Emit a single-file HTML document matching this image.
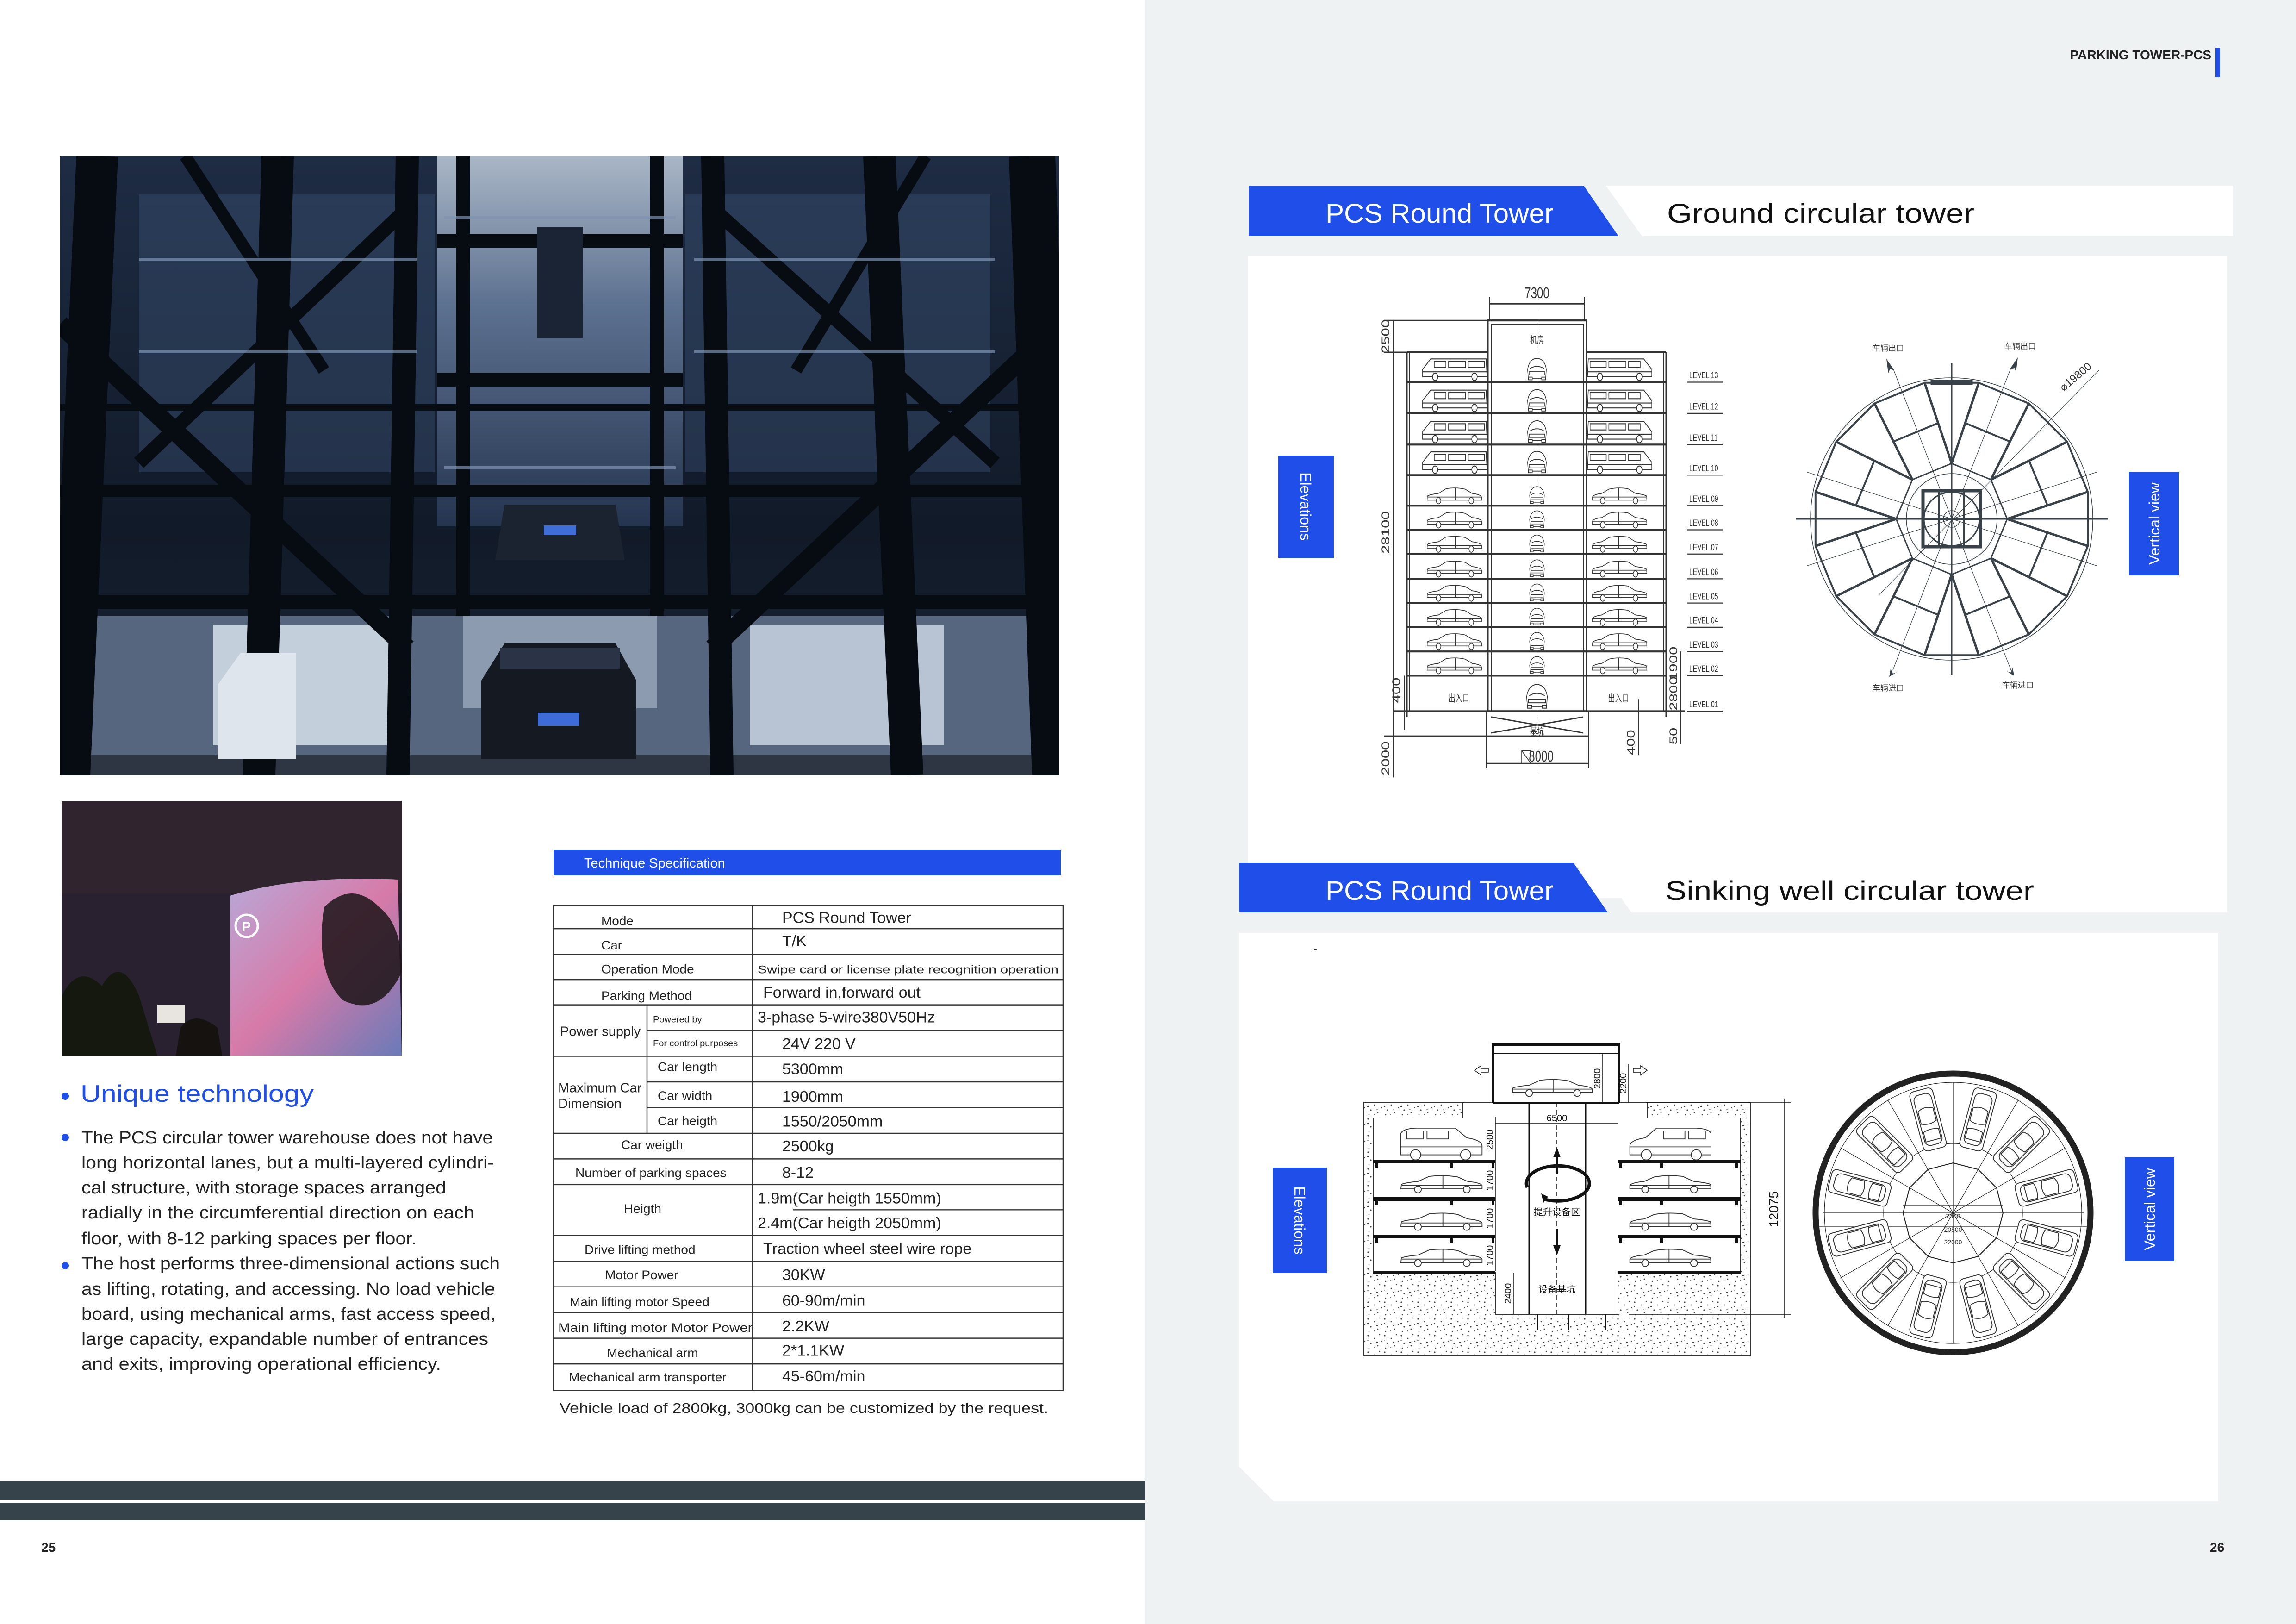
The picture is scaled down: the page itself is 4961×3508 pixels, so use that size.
<!DOCTYPE html>
<html><head><meta charset="utf-8"><style>
html,body{margin:0;padding:0;width:4961px;height:3508px;overflow:hidden;background:#fff}
svg{display:block}
text{font-family:"Liberation Sans","Noto Sans CJK SC",sans-serif}
</style></head><body>
<svg width="4961" height="3508" viewBox="0 0 4961 3508" xmlns="http://www.w3.org/2000/svg">
<defs>
<clipPath id="ph1"><rect x="130" y="337" width="2158" height="1337"/></clipPath>
<clipPath id="ph2"><rect x="134" y="1730" width="734" height="550"/></clipPath>
<linearGradient id="g1" x1="0" y1="0" x2="0" y2="1"><stop offset="0" stop-color="#1e2c44"/><stop offset="0.6" stop-color="#111a28"/><stop offset="1" stop-color="#1a2434"/></linearGradient>
<linearGradient id="g2" x1="0" y1="0" x2="0" y2="1"><stop offset="0" stop-color="#a9b6c6"/><stop offset="0.4" stop-color="#5d7190"/><stop offset="1" stop-color="#253550"/></linearGradient>
<linearGradient id="g3" x1="0" y1="0" x2="1" y2="1"><stop offset="0" stop-color="#b8a8d8"/><stop offset="0.5" stop-color="#d77aa8"/><stop offset="1" stop-color="#6a7ab8"/></linearGradient>
<pattern id="sp" width="36" height="36" patternUnits="userSpaceOnUse"><rect width="36" height="36" fill="#fff"/><g fill="#444"><circle cx="4" cy="5" r="1.6"/><circle cx="18" cy="11" r="1.4"/><circle cx="29" cy="3" r="1.3"/><circle cx="10" cy="22" r="1.6"/><circle cx="25" cy="27" r="1.4"/><circle cx="33" cy="17" r="1.2"/><circle cx="6" cy="32" r="1.3"/><circle cx="17" cy="31" r="1"/><rect x="21" y="19" width="4" height="1.5"/><rect x="2" y="14" width="3" height="1.5"/></g></pattern>
<symbol id="van" viewBox="0 0 150 40"><g fill="#fff" stroke="#333" stroke-width="1.6"><path d="M4,34 L4,22 L22,5 L146,5 L148,34 Z"/><rect x="30" y="9" width="26" height="10"/><rect x="62" y="9" width="38" height="10"/><rect x="106" y="9" width="36" height="10"/><line x1="4" y1="26" x2="148" y2="26"/><circle cx="32" cy="34" r="6"/><circle cx="120" cy="34" r="6"/></g></symbol>
<symbol id="sedan" viewBox="0 0 150 34"><g fill="#fff" stroke="#333" stroke-width="1.5"><path d="M4,26 L5,18 Q12,15 34,13 L54,4 Q80,1 104,5 L122,13 Q144,15 147,20 L147,26 Z"/><line x1="78" y1="3" x2="78" y2="26"/><line x1="6" y1="20" x2="146" y2="20"/><circle cx="34" cy="27" r="6"/><circle cx="120" cy="27" r="6"/></g></symbol>
<symbol id="suv" viewBox="0 0 150 60"><g fill="#fff" stroke="#333" stroke-width="1.5"><path d="M4,50 L4,12 Q8,4 30,3 L100,3 L120,20 Q146,24 147,34 L147,50 Z"/><rect x="14" y="8" width="30" height="14"/><rect x="50" y="8" width="38" height="14"/><line x1="4" y1="36" x2="147" y2="36"/><circle cx="30" cy="50" r="9"/><circle cx="118" cy="50" r="9"/></g></symbol>
<symbol id="front" viewBox="0 0 60 45"><g fill="#fff" stroke="#333" stroke-width="1.6"><path d="M8,40 L6,24 Q10,4 30,3 Q50,4 54,24 L52,40 Z"/><path d="M12,22 Q30,14 48,22"/><rect x="10" y="28" width="40" height="6"/><rect x="8" y="38" width="10" height="5"/><rect x="42" y="38" width="10" height="5"/></g></symbol>
<symbol id="car2" viewBox="0 0 45 110"><g fill="#fff" stroke="#333" stroke-width="1.5"><rect x="2" y="2" width="41" height="106" rx="8"/><rect x="7" y="10" width="31" height="90" rx="10"/><path d="M9,38 Q22,30 36,38 L36,60 Q22,66 9,60 Z"/><path d="M9,75 Q22,70 36,75 L36,92 L9,92 Z"/></g></symbol>
</defs>

<rect x="0" y="0" width="2474" height="3508" fill="#ffffff"/>
<rect x="2474" y="0" width="2487" height="3508" fill="#eef2f3"/>

<!-- PHOTO 1 -->
<g clip-path="url(#ph1)">
<rect x="130" y="337" width="2158" height="1337" fill="url(#g1)"/>
<rect x="944" y="337" width="531" height="800" fill="url(#g2)"/>
<rect x="300" y="420" width="640" height="600" fill="#3a5070" opacity="0.45"/>
<rect x="1480" y="420" width="660" height="600" fill="#3a5070" opacity="0.45"/>
<rect x="150" y="1330" width="2120" height="310" fill="#56667e"/>
<rect x="460" y="1350" width="420" height="260" fill="#c4cfdc"/>
<rect x="1620" y="1350" width="420" height="260" fill="#b8c4d4"/>
<rect x="1000" y="1330" width="420" height="200" fill="#8d9bb0"/>
<rect x="130" y="1630" width="2158" height="44" fill="#2e3644"/>
<g stroke="#070b12" stroke-linecap="butt">
<line x1="210" y1="337" x2="150" y2="1674" stroke-width="90"/>
<line x1="600" y1="337" x2="560" y2="1674" stroke-width="70"/>
<line x1="880" y1="337" x2="860" y2="1674" stroke-width="50"/>
<line x1="1540" y1="337" x2="1560" y2="1674" stroke-width="50"/>
<line x1="1900" y1="337" x2="1960" y2="1674" stroke-width="70"/>
<line x1="2230" y1="337" x2="2280" y2="1674" stroke-width="100"/>
<line x1="130" y1="700" x2="880" y2="1400" stroke-width="40"/>
<line x1="880" y1="450" x2="300" y2="1000" stroke-width="30"/>
<line x1="2288" y1="700" x2="1540" y2="1400" stroke-width="40"/>
<line x1="1540" y1="450" x2="2150" y2="1000" stroke-width="30"/>
<line x1="400" y1="337" x2="700" y2="800" stroke-width="26"/>
<line x1="2000" y1="337" x2="1720" y2="800" stroke-width="26"/>
<line x1="130" y1="1060" x2="2288" y2="1060" stroke-width="26"/>
<line x1="130" y1="1300" x2="2288" y2="1300" stroke-width="30"/>
<line x1="130" y1="880" x2="2288" y2="880" stroke-width="14"/>
<line x1="944" y1="520" x2="1475" y2="520" stroke-width="30"/>
<line x1="944" y1="820" x2="1475" y2="820" stroke-width="30"/>
<line x1="1000" y1="337" x2="1000" y2="1330" stroke-width="30"/>
<line x1="1420" y1="337" x2="1420" y2="1330" stroke-width="30"/>
</g>
<g stroke="#7e93b4" stroke-width="6" opacity="0.7">
<line x1="300" y1="560" x2="900" y2="560"/><line x1="1500" y1="560" x2="2150" y2="560"/>
<line x1="300" y1="760" x2="900" y2="760"/><line x1="1500" y1="760" x2="2150" y2="760"/>
<line x1="960" y1="470" x2="1460" y2="470"/><line x1="960" y1="1010" x2="1460" y2="1010"/>
</g>
<rect x="1160" y="490" width="100" height="240" fill="#1a2434"/>
<path d="M1070,1210 L1090,1090 L1330,1090 L1350,1210 Z" fill="#1b2230"/>
<rect x="1175" y="1135" width="70" height="20" fill="#3f6ed8"/>
<path d="M1040,1640 L1040,1470 L1090,1390 L1330,1390 L1375,1470 L1375,1640 Z" fill="#141922"/>
<rect x="1162" y="1540" width="90" height="28" fill="#3d6bd8"/>
<rect x="1080" y="1400" width="260" height="45" fill="#2a3446"/>
<path d="M470,1640 L470,1480 L520,1410 L640,1410 L640,1640 Z" fill="#dfe5ec"/>
</g>

<!-- PHOTO 2 -->
<g clip-path="url(#ph2)">
<rect x="134" y="1730" width="734" height="550" fill="#2a2130"/>
<rect x="134" y="1730" width="734" height="200" fill="#30252e"/>
<path d="M497,1935 Q640,1890 860,1900 L868,2280 L497,2280 Z" fill="url(#g3)"/>
<circle cx="533" cy="2000" r="24" fill="none" stroke="#fff" stroke-width="5"/>
<text x="522" y="2012" font-size="30" fill="#fff" font-weight="bold">P</text>
<path d="M134,2280 L134,2150 Q170,2080 220,2130 Q260,2060 300,2150 L340,2280 Z" fill="#14180f"/>
<path d="M380,2280 L390,2220 Q420,2180 470,2220 L480,2280 Z" fill="#16120f"/>
<path d="M700,1960 Q760,1900 820,1960 Q870,2000 868,2100 Q820,2200 740,2160 Q680,2100 700,1960 Z" fill="#1c1418" opacity="0.85"/>
<rect x="340" y="2170" width="60" height="40" fill="#e8e4e0"/>
</g>

<!-- left text -->
<circle cx="141" cy="2368" r="8" fill="#1f4fe8"/>
<text x="174" y="2380" font-size="52" fill="#1f4fe8" textLength="504" lengthAdjust="spacingAndGlyphs">Unique technology</text>
<circle cx="141" cy="2457" r="8" fill="#1f4fe8"/>
<circle cx="141" cy="2734" r="8" fill="#1f4fe8"/>
<g font-size="38" fill="#222">
<text x="176" y="2470" textLength="889" lengthAdjust="spacingAndGlyphs">The PCS circular tower warehouse does not have</text>
<text x="176" y="2524" textLength="891" lengthAdjust="spacingAndGlyphs">long horizontal lanes, but a multi-layered cylindri-</text>
<text x="176" y="2578" textLength="788" lengthAdjust="spacingAndGlyphs">cal structure, with storage spaces arranged</text>
<text x="176" y="2632" textLength="849" lengthAdjust="spacingAndGlyphs">radially in the circumferential direction on each</text>
<text x="176" y="2688" textLength="724" lengthAdjust="spacingAndGlyphs">floor, with 8-12 parking spaces per floor.</text>
<text x="176" y="2742" textLength="904" lengthAdjust="spacingAndGlyphs">The host performs three-dimensional actions such</text>
<text x="176" y="2797" textLength="894" lengthAdjust="spacingAndGlyphs">as lifting, rotating, and accessing. No load vehicle</text>
<text x="176" y="2851" textLength="895" lengthAdjust="spacingAndGlyphs">board, using mechanical arms, fast access speed,</text>
<text x="176" y="2905" textLength="879" lengthAdjust="spacingAndGlyphs">large capacity, expandable number of entrances</text>
<text x="176" y="2959" textLength="777" lengthAdjust="spacingAndGlyphs">and exits, improving operational efficiency.</text>
</g>

<rect x="1196" y="1836" width="1096" height="55" fill="#1f4fe8"/>
<text x="1262" y="1874" font-size="29" fill="#fff">Technique Specification</text>

<!-- table -->
<g transform="translate(0,52.4) scale(1,0.973)">
<g stroke="#333" stroke-width="2.5" fill="none">
<rect x="1196" y="1956" width="1101" height="1077"/>
<line x1="1626" y1="1956" x2="1626" y2="3033"/>
<line x1="1398" y1="2177" x2="1398" y2="2462"/>
<line x1="1196" y1="2008" x2="2297" y2="2008"/>
<line x1="1196" y1="2065" x2="2297" y2="2065"/>
<line x1="1196" y1="2121" x2="2297" y2="2121"/>
<line x1="1196" y1="2177" x2="2297" y2="2177"/>
<line x1="1398" y1="2234" x2="2297" y2="2234"/>
<line x1="1196" y1="2291" x2="2297" y2="2291"/>
<line x1="1398" y1="2348" x2="2297" y2="2348"/>
<line x1="1398" y1="2405" x2="2297" y2="2405"/>
<line x1="1196" y1="2462" x2="2297" y2="2462"/>
<line x1="1196" y1="2519" x2="2297" y2="2519"/>
<line x1="1196" y1="2576" x2="2297" y2="2576"/>
<line x1="1713" y1="2632" x2="2297" y2="2632"/>
<line x1="1196" y1="2689" x2="2297" y2="2689"/>
<line x1="1196" y1="2746" x2="2297" y2="2746"/>
<line x1="1196" y1="2803" x2="2297" y2="2803"/>
<line x1="1196" y1="2860" x2="2297" y2="2860"/>
<line x1="1196" y1="2917" x2="2297" y2="2917"/>
<line x1="1196" y1="2974" x2="2297" y2="2974"/>
</g>
<g font-size="28" fill="#222">
<text x="1299" y="2000">Mode</text>
<text x="1299" y="2054">Car</text>
<text x="1299" y="2107">Operation Mode</text>
<text x="1299" y="2166">Parking Method</text>
<text x="1210" y="2246" font-size="29">Power supply</text>
<text x="1411" y="2216" font-size="20">Powered by</text>
<text x="1411" y="2269" font-size="20">For control purposes</text>
<text x="1206" y="2371" font-size="29">Maximum Car</text>
<text x="1206" y="2406" font-size="29">Dimension</text>
<text x="1421" y="2324">Car length</text>
<text x="1421" y="2388">Car width</text>
<text x="1421" y="2444">Car heigth</text>
<text x="1342" y="2497">Car weigth</text>
<text x="1243" y="2559">Number of parking spaces</text>
<text x="1348" y="2639">Heigth</text>
<text x="1263" y="2730">Drive lifting method</text>
<text x="1307" y="2786">Motor Power</text>
<text x="1231" y="2846">Main lifting motor Speed</text>
<text x="1206" y="2903" textLength="420" lengthAdjust="spacingAndGlyphs">Main lifting motor Motor Power</text>
<text x="1311" y="2959">Mechanical arm</text>
<text x="1229" y="3013">Mechanical arm transporter</text>
</g>
<g font-size="34" fill="#222">
<text x="1690" y="1995">PCS Round Tower</text>
<text x="1690" y="2047">T/K</text>
<text x="1637" y="2107" font-size="25" textLength="650" lengthAdjust="spacingAndGlyphs">Swipe card or license plate recognition operation</text>
<text x="1649" y="2161">Forward in,forward out</text>
<text x="1637" y="2216">3-phase 5-wire380V50Hz</text>
<text x="1690" y="2275">24V  220 V</text>
<text x="1690" y="2331">5300mm</text>
<text x="1690" y="2392">1900mm</text>
<text x="1690" y="2447">1550/2050mm</text>
<text x="1690" y="2502">2500kg</text>
<text x="1690" y="2561">8-12</text>
<text x="1637" y="2618">1.9m(Car heigth 1550mm)</text>
<text x="1637" y="2673">2.4m(Car heigth 2050mm)</text>
<text x="1649" y="2730">Traction wheel steel wire rope</text>
<text x="1690" y="2788">30KW</text>
<text x="1690" y="2845">60-90m/min</text>
<text x="1690" y="2902">2.2KW</text>
<text x="1690" y="2956">2*1.1KW</text>
<text x="1690" y="3013">45-60m/min</text>
</g>
</g>
<text x="1209" y="3052" font-size="31" fill="#222" textLength="1056" lengthAdjust="spacingAndGlyphs">Vehicle load of 2800kg, 3000kg can be customized by the request.</text>

<rect x="0" y="3199" width="2474" height="85" fill="#37434b"/>
<rect x="0" y="3240" width="2474" height="6" fill="#ffffff"/>
<text x="89" y="3352" font-size="28" font-weight="bold" fill="#222">25</text>
<text x="4775" y="3352" font-size="28" font-weight="bold" fill="#222">26</text>

<text x="4778" y="128" font-size="28" font-weight="bold" fill="#222" text-anchor="end">PARKING TOWER-PCS</text>
<rect x="4787" y="103" width="10" height="64" fill="#1f4fe8"/>

<!-- panel 1 -->
<rect x="2696" y="552" width="2116" height="1388" fill="#fff"/>
<polygon points="2698,401 3422,401 3497,510 2698,510" fill="#1f4fe8"/>
<polygon points="3470,401 4825,401 4825,510 3548,510" fill="#fff"/>
<text x="2864" y="481" font-size="58" fill="#fff" textLength="493" lengthAdjust="spacingAndGlyphs">PCS Round Tower</text>
<text x="3602" y="481" font-size="58" fill="#111" textLength="664" lengthAdjust="spacingAndGlyphs">Ground circular tower</text>

<!-- panel 2 -->
<polygon points="2677,2015 4793,2015 4793,3243 2752,3243 2677,3168" fill="#fff"/>
<polygon points="2677,1864 3400,1864 3474,1971 2677,1971" fill="#1f4fe8"/>
<polygon points="3449,1864 4812,1864 4812,1971 3525,1971" fill="#fff"/>
<text x="2864" y="1944" font-size="58" fill="#fff" textLength="493" lengthAdjust="spacingAndGlyphs">PCS Round Tower</text>
<text x="3598" y="1944" font-size="58" fill="#111" textLength="797" lengthAdjust="spacingAndGlyphs">Sinking well circular tower</text>
<text x="2838" y="2058" font-size="24" fill="#333">-</text>

<rect x="2762" y="984" width="120" height="221" fill="#1f4fe8"/>
<text transform="translate(2810,1094) rotate(90)" font-size="32" fill="#fff" text-anchor="middle">Elevations</text>
<rect x="4600" y="1019" width="108" height="224" fill="#1f4fe8"/>
<text transform="translate(4666,1131) rotate(-90)" font-size="32" fill="#fff" text-anchor="middle">Vertical view</text>
<rect x="2750" y="2522" width="117" height="228" fill="#1f4fe8"/>
<text transform="translate(2797,2636) rotate(90)" font-size="32" fill="#fff" text-anchor="middle">Elevations</text>
<rect x="4591" y="2500" width="107" height="224" fill="#1f4fe8"/>
<text transform="translate(4656,2612) rotate(-90)" font-size="32" fill="#fff" text-anchor="middle">Vertical view</text>

<!-- ELEVATION 1 -->
<g transform="translate(0,-225) scale(1,1.375)">
<g stroke="#333" fill="none" stroke-width="2">
<rect x="3215" y="667" width="213" height="614" stroke-width="3"/>
<rect x="3222" y="673" width="199" height="608"/>
<line x1="3040" y1="717" x2="3040" y2="1290" stroke-width="3"/>
<line x1="3046" y1="717" x2="3046" y2="1281"/>
<line x1="3600" y1="717" x2="3600" y2="1290" stroke-width="3"/>
<line x1="3594" y1="717" x2="3594" y2="1281"/>
<line x1="3040" y1="717" x2="3215" y2="717" stroke-width="3"/>
<line x1="3428" y1="717" x2="3600" y2="717" stroke-width="3"/>
<g stroke-width="3">
<line x1="3040" y1="764" x2="3600" y2="764"/><line x1="3040" y1="813" x2="3600" y2="813"/>
<line x1="3040" y1="862" x2="3600" y2="862"/><line x1="3040" y1="910" x2="3600" y2="910"/>
<line x1="3040" y1="958" x2="3600" y2="958"/><line x1="3040" y1="996" x2="3600" y2="996"/>
<line x1="3040" y1="1034" x2="3600" y2="1034"/><line x1="3040" y1="1073" x2="3600" y2="1073"/>
<line x1="3040" y1="1111" x2="3600" y2="1111"/><line x1="3040" y1="1149" x2="3600" y2="1149"/>
<line x1="3040" y1="1187" x2="3600" y2="1187"/><line x1="3040" y1="1225" x2="3600" y2="1225"/>
<line x1="3010" y1="1281" x2="3640" y2="1281"/>
</g>
<rect x="3211" y="1281" width="221" height="39"/>
<line x1="3222" y1="1290" x2="3421" y2="1315"/><line x1="3421" y1="1290" x2="3222" y2="1315"/>
<line x1="3321" y1="650" x2="3321" y2="1378" stroke-dasharray="20,5,4,5"/>
<line x1="3010" y1="667" x2="3010" y2="1385"/>
<line x1="2990" y1="667" x2="3215" y2="667"/><line x1="2990" y1="717" x2="3040" y2="717"/>
<line x1="2990" y1="1320" x2="3211" y2="1320"/>
<line x1="3219" y1="641" x2="3424" y2="641"/><line x1="3219" y1="630" x2="3219" y2="667"/><line x1="3424" y1="630" x2="3424" y2="667"/>
<line x1="3211" y1="1363" x2="3432" y2="1363"/><line x1="3211" y1="1320" x2="3211" y2="1370"/><line x1="3432" y1="1320" x2="3432" y2="1370"/>
<line x1="3034" y1="1225" x2="3034" y2="1310"/>
<line x1="3632" y1="1187" x2="3632" y2="1333"/>
<line x1="3540" y1="1262" x2="3540" y2="1350"/>
<rect x="3288" y="1343" width="20" height="20" stroke-width="1.5"/><line x1="3288" y1="1343" x2="3308" y2="1363" stroke-width="1.5"/>
</g>
<g stroke="#333" stroke-width="1.6">
<line x1="3645" y1="764" x2="3722" y2="764"/><line x1="3645" y1="813" x2="3722" y2="813"/>
<line x1="3645" y1="862" x2="3722" y2="862"/><line x1="3645" y1="910" x2="3722" y2="910"/>
<line x1="3645" y1="958" x2="3722" y2="958"/><line x1="3645" y1="996" x2="3722" y2="996"/>
<line x1="3645" y1="1034" x2="3722" y2="1034"/><line x1="3645" y1="1073" x2="3722" y2="1073"/>
<line x1="3645" y1="1111" x2="3722" y2="1111"/><line x1="3645" y1="1149" x2="3722" y2="1149"/>
<line x1="3645" y1="1187" x2="3722" y2="1187"/><line x1="3645" y1="1225" x2="3722" y2="1225"/>
<line x1="3645" y1="1281" x2="3722" y2="1281"/>
</g>
<g font-size="14" fill="#333">
<text x="3650" y="758">LEVEL  13</text><text x="3650" y="807">LEVEL  12</text>
<text x="3650" y="856">LEVEL  11</text><text x="3650" y="904">LEVEL  10</text>
<text x="3650" y="952">LEVEL  09</text><text x="3650" y="990">LEVEL  08</text>
<text x="3650" y="1028">LEVEL  07</text><text x="3650" y="1067">LEVEL  06</text>
<text x="3650" y="1105">LEVEL  05</text><text x="3650" y="1143">LEVEL  04</text>
<text x="3650" y="1181">LEVEL  03</text><text x="3650" y="1219">LEVEL  02</text>
<text x="3650" y="1275">LEVEL  01</text>
</g>
<g font-size="24" fill="#333" text-anchor="middle">
<text x="3321" y="632">7300</text>
<text x="3330" y="1360">8000</text>
<text transform="translate(3002,692) rotate(-90)">2500</text>
<text transform="translate(3002,1000) rotate(-90)">28100</text>
<text transform="translate(3002,1355) rotate(-90)">2000</text>
<text transform="translate(3025,1248) rotate(-90)">400</text>
<text transform="translate(3624,1206) rotate(-90)">1900</text>
<text transform="translate(3624,1253) rotate(-90)">2800</text>
<text transform="translate(3624,1320) rotate(-90)">50</text>
<text transform="translate(3532,1330) rotate(-90)">400</text>
</g>
<g font-size="15" fill="#333" text-anchor="middle">
<text x="3321" y="703">机房</text>
<text x="3152" y="1266">出入口</text>
<text x="3497" y="1266">出入口</text>
<text x="3321" y="1318">基坑</text>
</g>
<g>
<use href="#van" x="3070" y="722" width="145" height="40"/><use href="#van" x="-3573" y="722" width="145" height="40" transform="scale(-1,1)"/>
<use href="#van" x="3070" y="771" width="145" height="40"/><use href="#van" x="-3573" y="771" width="145" height="40" transform="scale(-1,1)"/>
<use href="#van" x="3070" y="820" width="145" height="40"/><use href="#van" x="-3573" y="820" width="145" height="40" transform="scale(-1,1)"/>
<use href="#van" x="3070" y="868" width="145" height="40"/><use href="#van" x="-3573" y="868" width="145" height="40" transform="scale(-1,1)"/>
<use href="#sedan" x="3072" y="928" width="140" height="28"/><use href="#sedan" x="-3570" y="928" width="140" height="28" transform="scale(-1,1)"/>
<use href="#sedan" x="3072" y="966" width="140" height="28"/><use href="#sedan" x="-3570" y="966" width="140" height="28" transform="scale(-1,1)"/>
<use href="#sedan" x="3072" y="1004" width="140" height="28"/><use href="#sedan" x="-3570" y="1004" width="140" height="28" transform="scale(-1,1)"/>
<use href="#sedan" x="3072" y="1043" width="140" height="28"/><use href="#sedan" x="-3570" y="1043" width="140" height="28" transform="scale(-1,1)"/>
<use href="#sedan" x="3072" y="1081" width="140" height="28"/><use href="#sedan" x="-3570" y="1081" width="140" height="28" transform="scale(-1,1)"/>
<use href="#sedan" x="3072" y="1119" width="140" height="28"/><use href="#sedan" x="-3570" y="1119" width="140" height="28" transform="scale(-1,1)"/>
<use href="#sedan" x="3072" y="1157" width="140" height="28"/><use href="#sedan" x="-3570" y="1157" width="140" height="28" transform="scale(-1,1)"/>
<use href="#sedan" x="3072" y="1195" width="140" height="28"/><use href="#sedan" x="-3570" y="1195" width="140" height="28" transform="scale(-1,1)"/>
<use href="#front" x="3293" y="724" width="56" height="38"/>
<use href="#front" x="3293" y="773" width="56" height="38"/>
<use href="#front" x="3293" y="822" width="56" height="38"/>
<use href="#front" x="3293" y="870" width="56" height="38"/>
<use href="#front" x="3293" y="926" width="56" height="30"/>
<use href="#front" x="3293" y="964" width="56" height="30"/>
<use href="#front" x="3293" y="1002" width="56" height="30"/>
<use href="#front" x="3293" y="1041" width="56" height="30"/>
<use href="#front" x="3293" y="1079" width="56" height="30"/>
<use href="#front" x="3293" y="1117" width="56" height="30"/>
<use href="#front" x="3293" y="1155" width="56" height="30"/>
<use href="#front" x="3293" y="1193" width="56" height="30"/>
<use href="#front" x="3293" y="1235" width="56" height="44"/>
</g>
</g>

<!-- VERTICAL VIEW 1 -->
<g stroke="#3a4249" fill="none">
<circle cx="4217" cy="1121" r="305" stroke-width="1.5"/>
<polygon stroke-width="4" points="4275.5,826.8 4383.7,871.5 4466.5,954.3 4511.2,1062.5 4511.2,1179.5 4466.5,1287.7 4383.7,1370.5 4275.5,1415.2 4158.5,1415.2 4050.3,1370.5 3967.5,1287.7 3922.8,1179.5 3922.8,1062.5 3967.5,954.3 4050.3,871.5 4158.5,826.8"/>
<polygon stroke-width="3" points="4217,1001 4301.9,1036.1 4337,1121 4301.9,1205.9 4217,1241 4132.1,1205.9 4097,1121 4132.1,1036.1"/>
<circle cx="4217" cy="1121" r="98" stroke-width="1.5"/>
<g stroke-width="5">
<line x1="4217" y1="1001" x2="4158.5" y2="826.8"/><line x1="4217" y1="1001" x2="4275.5" y2="826.8"/>
<line x1="4301.9" y1="1036.1" x2="4383.7" y2="871.5"/><line x1="4301.9" y1="1036.1" x2="4466.5" y2="954.3"/>
<line x1="4337" y1="1121" x2="4511.2" y2="1062.5"/><line x1="4337" y1="1121" x2="4511.2" y2="1179.5"/>
<line x1="4301.9" y1="1205.9" x2="4466.5" y2="1287.7"/><line x1="4301.9" y1="1205.9" x2="4383.7" y2="1370.5"/>
<line x1="4217" y1="1241" x2="4275.5" y2="1415.2"/><line x1="4217" y1="1241" x2="4158.5" y2="1415.2"/>
<line x1="4132.1" y1="1205.9" x2="4050.3" y2="1370.5"/><line x1="4132.1" y1="1205.9" x2="3967.5" y2="1287.7"/>
<line x1="4097" y1="1121" x2="3922.8" y2="1179.5"/><line x1="4097" y1="1121" x2="3922.8" y2="1062.5"/>
<line x1="4132.1" y1="1036.1" x2="3967.5" y2="954.3"/><line x1="4132.1" y1="1036.1" x2="4050.3" y2="871.5"/>
</g>
<g stroke-width="4">
<line x1="4246.3" y1="913.9" x2="4342.8" y2="953.8"/>
<line x1="4384.2" y1="995.2" x2="4424.1" y2="1091.8"/>
<line x1="4424.1" y1="1150.3" x2="4384.2" y2="1246.8"/>
<line x1="4342.8" y1="1288.2" x2="4246.3" y2="1328.1"/>
<line x1="4187.8" y1="1328.1" x2="4091.2" y2="1288.2"/>
<line x1="4049.8" y1="1246.8" x2="4009.9" y2="1150.3"/>
<line x1="4009.9" y1="1091.8" x2="4049.8" y2="995.2"/>
<line x1="4091.2" y1="953.8" x2="4187.8" y2="913.9"/>
</g>
<g stroke-width="1.2">
<line x1="4217" y1="1121" x2="4090" y2="795"/><line x1="4217" y1="1121" x2="4345" y2="795"/>
<line x1="4217" y1="1121" x2="4090" y2="1447"/><line x1="4217" y1="1121" x2="4345" y2="1447"/>
<line x1="3905" y1="1020" x2="4530" y2="1222"/><line x1="3905" y1="1222" x2="4530" y2="1020"/>
<line x1="4060" y1="1285" x2="4535" y2="800"/>
</g>
<rect x="4155" y="1060" width="124" height="121" stroke-width="7"/>
<line x1="4155" y1="1121" x2="4279" y2="1121" stroke-width="5"/>
<line x1="4190" y1="1060" x2="4190" y2="1181" stroke-width="4"/><line x1="4244" y1="1060" x2="4244" y2="1181" stroke-width="4"/>
<ellipse cx="4217" cy="1121" rx="60" ry="58" stroke-width="3"/>
<circle cx="4217" cy="1121" r="18" stroke-width="1.5"/>
<line x1="3880" y1="1121" x2="4555" y2="1121" stroke-width="3"/>
<line x1="4217" y1="785" x2="4217" y2="1457" stroke-width="3"/>
<rect x="4172" y="821" width="90" height="10" fill="#3a4249" stroke-width="1"/>
</g>
<g fill="#3a4249">
<path d="M4076,775 L4093,800 L4084,797 L4080,806 Z"/><path d="M4360,772 L4343,797 L4353,795 L4356,804 Z"/>
<path d="M4082,1462 L4085,1445 L4090,1455 L4098,1452 Z"/><path d="M4352,1460 L4349,1443 L4344,1453 L4336,1450 Z"/>
</g>
<g font-size="17" fill="#333" text-anchor="middle">
<text x="4080" y="758">车辆出口</text><text x="4365" y="754">车辆出口</text>
<text x="4080" y="1492">车辆进口</text><text x="4360" y="1486">车辆进口</text>
</g>
<text transform="translate(4490,820) rotate(-40)" font-size="24" fill="#333" text-anchor="middle">⌀19800</text>

<!-- ELEVATION 2 -->
<rect x="2946" y="2382" width="836" height="547" fill="url(#sp)" stroke="#333" stroke-width="2"/>
<path d="M3161,2382 L3559,2382 L3559,2415 L3761,2415 L3761,2749 L3496,2749 L3496,2839 L3231,2839 L3231,2749 L2967,2749 L2967,2415 L3161,2415 Z" fill="#fff" stroke="#333" stroke-width="2"/>
<g stroke="#111" fill="none">
<path d="M3226,2382 L3226,2257 L3498,2257 L3498,2382" stroke-width="6"/>
<line x1="3226" y1="2276" x2="3498" y2="2276" stroke-width="2"/>
<line x1="3226" y1="2382" x2="3498" y2="2382" stroke-width="4"/>
<g stroke-width="8">
<line x1="2967" y1="2509" x2="3231" y2="2509"/><line x1="3496" y1="2509" x2="3761" y2="2509"/>
<line x1="2967" y1="2590" x2="3231" y2="2590"/><line x1="3496" y1="2590" x2="3761" y2="2590"/>
<line x1="2967" y1="2671" x2="3231" y2="2671"/><line x1="3496" y1="2671" x2="3761" y2="2671"/>
<line x1="2967" y1="2749" x2="3231" y2="2749"/><line x1="3496" y1="2749" x2="3761" y2="2749"/>
</g>
<g stroke-width="6">
<line x1="2975" y1="2509" x2="2975" y2="2522"/><line x1="3136" y1="2509" x2="3136" y2="2522"/><line x1="3226" y1="2509" x2="3226" y2="2522"/>
<line x1="2975" y1="2590" x2="2975" y2="2603"/><line x1="3136" y1="2590" x2="3136" y2="2603"/><line x1="3226" y1="2590" x2="3226" y2="2603"/>
<line x1="2975" y1="2671" x2="2975" y2="2684"/><line x1="3136" y1="2671" x2="3136" y2="2684"/><line x1="3226" y1="2671" x2="3226" y2="2684"/>
<line x1="3502" y1="2509" x2="3502" y2="2522"/><line x1="3590" y1="2509" x2="3590" y2="2522"/><line x1="3752" y1="2509" x2="3752" y2="2522"/>
<line x1="3502" y1="2590" x2="3502" y2="2603"/><line x1="3590" y1="2590" x2="3590" y2="2603"/><line x1="3752" y1="2590" x2="3752" y2="2603"/>
<line x1="3502" y1="2671" x2="3502" y2="2684"/><line x1="3590" y1="2671" x2="3590" y2="2684"/><line x1="3752" y1="2671" x2="3752" y2="2684"/>
</g>
<line x1="3304" y1="2382" x2="3304" y2="2839" stroke-width="3"/>
<line x1="3426" y1="2382" x2="3426" y2="2839" stroke-width="3"/>
<line x1="3364" y1="2382" x2="3364" y2="2839" stroke-width="1.5" stroke-dasharray="10,6"/>
<line x1="3364" y1="2535" x2="3364" y2="2485" stroke-width="4"/>
<line x1="3364" y1="2655" x2="3364" y2="2705" stroke-width="4"/>
<path d="M3300,2565 A68,38 0 1 1 3335,2590" stroke-width="7"/>
<g stroke-width="2"><line x1="3254" y1="2839" x2="3254" y2="2872"/><line x1="3322" y1="2839" x2="3322" y2="2872"/><line x1="3390" y1="2839" x2="3390" y2="2872"/><line x1="3470" y1="2839" x2="3470" y2="2872"/></g>
<g stroke-width="1.5">
<line x1="3855" y1="2375" x2="3855" y2="2846"/>
<line x1="3559" y1="2382" x2="3870" y2="2382"/><line x1="3520" y1="2839" x2="3870" y2="2839"/>
<line x1="3231" y1="2426" x2="3496" y2="2426"/>
<line x1="3231" y1="2412" x2="3231" y2="2745"/>
<line x1="3463" y1="2275" x2="3463" y2="2382"/>
<line x1="3518" y1="2298" x2="3518" y2="2382"/>
<line x1="3270" y1="2749" x2="3270" y2="2839"/>
<path d="M3186,2312 L3200,2302 L3200,2308 L3216,2308 L3216,2316 L3200,2316 L3200,2322 Z"/>
<path d="M3559,2312 L3545,2302 L3545,2308 L3529,2308 L3529,2316 L3545,2316 L3545,2322 Z"/>
</g>
</g>
<g fill="#111"><path d="M3364,2478 L3356,2500 L3372,2500 Z"/><path d="M3364,2712 L3356,2690 L3372,2690 Z"/><path d="M3335,2598 L3330,2578 L3345,2585 Z"/></g>
<use href="#sedan" x="3263" y="2318" width="181" height="62"/>
<use href="#suv" x="3022" y="2432" width="184" height="76"/>
<use href="#suv" x="-3702" y="2432" width="184" height="76" transform="scale(-1,1)"/>
<use href="#sedan" x="3022" y="2526" width="184" height="62"/><use href="#sedan" x="-3702" y="2526" width="184" height="62" transform="scale(-1,1)"/>
<use href="#sedan" x="3022" y="2607" width="184" height="62"/><use href="#sedan" x="-3702" y="2607" width="184" height="62" transform="scale(-1,1)"/>
<use href="#sedan" x="3022" y="2685" width="184" height="62"/><use href="#sedan" x="-3702" y="2685" width="184" height="62" transform="scale(-1,1)"/>
<g font-size="20" fill="#111" text-anchor="middle">
<text x="3364" y="2422">6500</text>
<text x="3364" y="2625">提升设备区</text>
<text x="3364" y="2792">设备基坑</text>
<text transform="translate(3458,2330) rotate(-90)">2800</text>
<text transform="translate(3514,2340) rotate(-90)">2200</text>
<text transform="translate(3226,2462) rotate(-90)">2500</text>
<text transform="translate(3226,2550) rotate(-90)">1700</text>
<text transform="translate(3226,2632) rotate(-90)">1700</text>
<text transform="translate(3226,2712) rotate(-90)">1700</text>
<text transform="translate(3265,2794) rotate(-90)">2400</text>
</g>
<text transform="translate(3842,2612) rotate(-90)" font-size="28" fill="#111" text-anchor="middle">12075</text>

<!-- VERTICAL VIEW 2 -->
<g stroke="#222" fill="none">
<ellipse cx="4220" cy="2620" rx="297" ry="301" stroke-width="13"/>
<ellipse cx="4220" cy="2620" rx="278" ry="282" stroke-width="1.2"/>
<polygon stroke-width="2" points="4220,2512 4274,2526 4314,2566 4328,2620 4314,2674 4274,2714 4220,2728 4166,2714 4126,2674 4112,2620 4126,2566 4166,2526"/>
<circle cx="4220" cy="2620" r="150" stroke-width="1.2"/>
<g stroke-width="1.2">
<line x1="4220" y1="2338" x2="4220" y2="2902"/><line x1="3938" y1="2620" x2="4502" y2="2620"/>
<line x1="4079" y1="2376" x2="4361" y2="2864"/><line x1="4361" y1="2376" x2="4079" y2="2864"/>
<line x1="3976" y1="2479" x2="4464" y2="2761"/><line x1="4464" y1="2479" x2="3976" y2="2761"/>
<line x1="3925" y1="2650" x2="4515" y2="2650"/>
<line x1="4112" y1="2604" x2="4328" y2="2604"/>
</g>
</g>
<g>
<g transform="rotate(15 4220 2620)"><use href="#car2" x="4192" y="2342" width="56" height="138"/></g>
<g transform="rotate(-15 4220 2620)"><use href="#car2" x="4192" y="2342" width="56" height="138"/></g>
<g transform="rotate(45 4220 2620)"><use href="#car2" x="4192" y="2342" width="56" height="138"/></g>
<g transform="rotate(-45 4220 2620)"><use href="#car2" x="4192" y="2342" width="56" height="138"/></g>
<g transform="rotate(75 4220 2620)"><use href="#car2" x="4192" y="2342" width="56" height="138"/></g>
<g transform="rotate(-75 4220 2620)"><use href="#car2" x="4192" y="2342" width="56" height="138"/></g>
<g transform="rotate(105 4220 2620)"><use href="#car2" x="4192" y="2342" width="56" height="138"/></g>
<g transform="rotate(-105 4220 2620)"><use href="#car2" x="4192" y="2342" width="56" height="138"/></g>
<g transform="rotate(135 4220 2620)"><use href="#car2" x="4192" y="2342" width="56" height="138"/></g>
<g transform="rotate(-135 4220 2620)"><use href="#car2" x="4192" y="2342" width="56" height="138"/></g>
<g transform="rotate(165 4220 2620)"><use href="#car2" x="4192" y="2342" width="56" height="138"/></g>
<g transform="rotate(-165 4220 2620)"><use href="#car2" x="4192" y="2342" width="56" height="138"/></g>
</g>
<g font-size="14" fill="#333" text-anchor="middle">
<text x="4220" y="2632">7000</text>
<text x="4220" y="2661">20500</text>
<text x="4220" y="2688">22000</text>
</g>
</svg>
</body></html>
